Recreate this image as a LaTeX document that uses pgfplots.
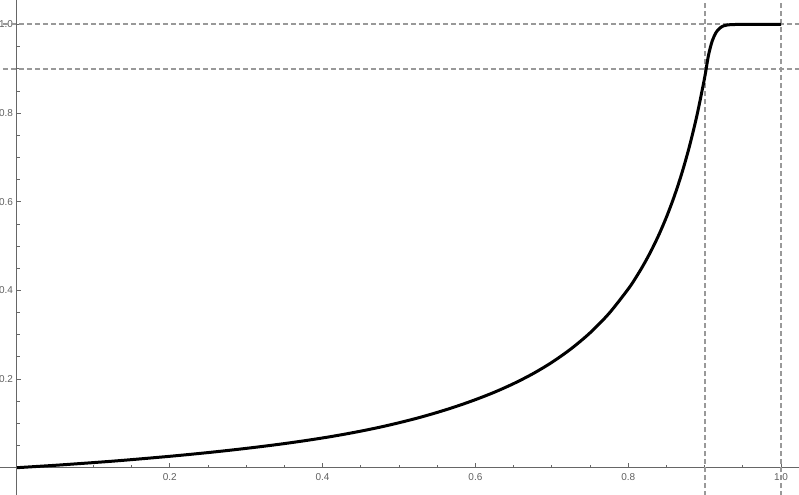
\documentclass[border=0pt]{standalone}
\usepackage{fontspec}
\setmainfont{Liberation Sans}
\usepackage{pgfplots}
\pgfplotsset{compat=1.18}
\definecolor{axisgray}{HTML}{666666}
\definecolor{labelgray}{HTML}{606060}
\definecolor{refgray}{HTML}{999999}

\begin{document}
\begin{tikzpicture}
\begin{axis}[
    name=main,
    scale only axis,
    width=599.25pt, height=371.25pt,
    xmin=-0.02225, xmax=1.02356,
    ymin=-0.0616, ymax=1.0553,
    axis x line=middle, axis y line=middle,
    axis line style={axisgray, line width=0.75pt, -},
    xtick={0,0.2,0.4,0.6,0.8,1.0},
    xticklabels={,0.2,0.4,0.6,0.8,1.0},
    ytick={0,0.2,0.4,0.6,0.8,1.0},
    yticklabels={,0.2,0.4,0.6,0.8,1.0},
    minor tick num=3,
    tick align=inside,
    major tick length=3.2pt, minor tick length=2.2pt,
    tick style={axisgray, line width=0.6pt},
    ticklabel style={font=\fontsize{7.5}{9}\selectfont, text=labelgray},
    xticklabel style={yshift=-1pt},
    yticklabel style={xshift=0.5pt},
    clip=true,
]
% reference lines
\addplot[refgray, line width=1.5pt, dash pattern=on 3.75pt off 2.25pt]
  coordinates {(-0.05,1.0) (1.05,1.0)};
\addplot[refgray, line width=1.5pt, dash pattern=on 3.75pt off 2.25pt]
  coordinates {(-0.05,0.9) (1.05,0.9)};
\addplot[refgray, line width=1.5pt, dash pattern=on 3.75pt off 2.25pt]
  coordinates {(0.9,-0.1) (0.9,1.1)};
\addplot[refgray, line width=1.5pt, dash pattern=on 3.75pt off 2.25pt]
  coordinates {(1.0,-0.1) (1.0,1.1)};

% curve
\addplot[black, line width=2.25pt, smooth, tension=0.5] coordinates {
  (0,0) (0.025,0.0027) (0.05,0.0054) (0.075,0.0084) (0.1,0.0115)
  (0.125,0.0147) (0.15,0.0182) (0.175,0.0219) (0.2,0.0257) (0.225,0.0298)
  (0.25,0.0341) (0.275,0.0387) (0.3,0.0436) (0.325,0.0488) (0.35,0.0544)
  (0.375,0.0605) (0.4,0.0671) (0.425,0.0744) (0.45,0.0825) (0.475,0.0914)
  (0.5,0.1014) (0.525,0.1124) (0.55,0.1247) (0.575,0.1383) (0.6,0.1535)
  (0.625,0.1704) (0.65,0.1897) (0.675,0.2118) (0.7,0.2376) (0.725,0.2680)
  (0.75,0.3042) (0.775,0.3483) (0.8,0.4031) (0.81,0.4289) (0.82,0.4575)
  (0.83,0.4893) (0.84,0.5250) (0.85,0.5652) (0.86,0.6109) (0.87,0.6633)
  (0.88,0.7241) (0.89,0.7952) (0.9,0.8797) (0.905,0.930) (0.91,0.963)
  (0.915,0.982) (0.92,0.992) (0.925,0.997) (0.93,0.999) (0.94,1.0)
  (0.97,1.0) (1.0,1.0)
};
\end{axis}
\pgfresetboundingbox
\path[use as bounding box] (main.south west) rectangle (main.north east);
\end{tikzpicture}
\end{document}
